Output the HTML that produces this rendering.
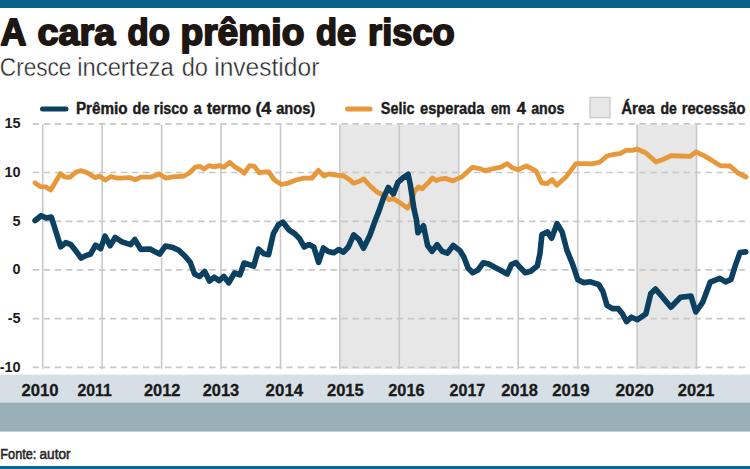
<!DOCTYPE html>
<html><head><meta charset="utf-8"><title>A cara do prêmio de risco</title>
<style>
html,body{margin:0;padding:0;background:#fff;}
body{width:750px;height:469px;overflow:hidden;}
svg{display:block;font-family:"Liberation Sans", sans-serif;}
</style></head><body>
<svg width="750" height="469" viewBox="0 0 750 469">
<rect x="0" y="0" width="750" height="469" fill="#ffffff"/>
<rect x="0" y="0" width="750" height="8" fill="#0a628b"/>
<text x="0.50" y="44.80" font-size="36.2" font-weight="bold" fill="#1e1612" stroke="#1e1612" stroke-width="1.8" stroke-linejoin="round" textLength="25.89" lengthAdjust="spacingAndGlyphs">A</text>
<text x="37.58" y="44.80" font-size="36.2" font-weight="bold" fill="#1e1612" stroke="#1e1612" stroke-width="1.8" stroke-linejoin="round" textLength="77.74" lengthAdjust="spacingAndGlyphs">cara</text>
<text x="127.51" y="44.80" font-size="36.2" font-weight="bold" fill="#1e1612" stroke="#1e1612" stroke-width="1.8" stroke-linejoin="round" textLength="42.36" lengthAdjust="spacingAndGlyphs">do</text>
<text x="180.48" y="44.80" font-size="36.2" font-weight="bold" fill="#1e1612" stroke="#1e1612" stroke-width="1.8" stroke-linejoin="round" textLength="123.88" lengthAdjust="spacingAndGlyphs">prêmio</text>
<text x="316.02" y="44.80" font-size="36.2" font-weight="bold" fill="#1e1612" stroke="#1e1612" stroke-width="1.8" stroke-linejoin="round" textLength="40.18" lengthAdjust="spacingAndGlyphs">de</text>
<text x="368.04" y="44.80" font-size="36.2" font-weight="bold" fill="#1e1612" stroke="#1e1612" stroke-width="1.8" stroke-linejoin="round" textLength="86.73" lengthAdjust="spacingAndGlyphs">risco</text>
<text x="-0.13" y="76.20" font-size="26" fill="#262626" stroke="#ffffff" stroke-width="0.4" textLength="71.49" lengthAdjust="spacingAndGlyphs">Cresce</text>
<text x="77.25" y="76.20" font-size="26" fill="#262626" stroke="#ffffff" stroke-width="0.4" textLength="96.49" lengthAdjust="spacingAndGlyphs">incerteza</text>
<text x="181.76" y="76.20" font-size="26" fill="#262626" stroke="#ffffff" stroke-width="0.4" textLength="26.24" lengthAdjust="spacingAndGlyphs">do</text>
<text x="214.20" y="76.20" font-size="26" fill="#262626" stroke="#ffffff" stroke-width="0.4" textLength="105.16" lengthAdjust="spacingAndGlyphs">investidor</text>
<line x1="42.5" y1="109" x2="66" y2="109" stroke="#0c4060" stroke-width="5" stroke-linecap="round"/>
<text x="75.91" y="113.90" font-size="16" font-weight="bold" fill="#1c1c1c" stroke="#1c1c1c" stroke-width="0.4" textLength="51.73" lengthAdjust="spacingAndGlyphs">Prêmio</text>
<text x="132.52" y="113.90" font-size="16" font-weight="bold" fill="#1c1c1c" stroke="#1c1c1c" stroke-width="0.4" textLength="16.95" lengthAdjust="spacingAndGlyphs">de</text>
<text x="153.87" y="113.90" font-size="16" font-weight="bold" fill="#1c1c1c" stroke="#1c1c1c" stroke-width="0.4" textLength="34.03" lengthAdjust="spacingAndGlyphs">risco</text>
<text x="193.43" y="113.90" font-size="16" font-weight="bold" fill="#1c1c1c" stroke="#1c1c1c" stroke-width="0.4" textLength="8.24" lengthAdjust="spacingAndGlyphs">a</text>
<text x="206.64" y="113.90" font-size="16" font-weight="bold" fill="#1c1c1c" stroke="#1c1c1c" stroke-width="0.4" textLength="44.49" lengthAdjust="spacingAndGlyphs">termo</text>
<text x="255.40" y="113.90" font-size="16" font-weight="bold" fill="#1c1c1c" stroke="#1c1c1c" stroke-width="0.4" textLength="15.89" lengthAdjust="spacingAndGlyphs">(4</text>
<text x="276.13" y="113.90" font-size="16" font-weight="bold" fill="#1c1c1c" stroke="#1c1c1c" stroke-width="0.4" textLength="39.06" lengthAdjust="spacingAndGlyphs">anos)</text>
<line x1="347.5" y1="109" x2="370" y2="109" stroke="#e6983a" stroke-width="5" stroke-linecap="round"/>
<text x="380.84" y="113.90" font-size="16" font-weight="bold" fill="#1c1c1c" stroke="#1c1c1c" stroke-width="0.4" textLength="33.62" lengthAdjust="spacingAndGlyphs">Selic</text>
<text x="419.99" y="113.90" font-size="16" font-weight="bold" fill="#1c1c1c" stroke="#1c1c1c" stroke-width="0.4" textLength="64.39" lengthAdjust="spacingAndGlyphs">esperada</text>
<text x="491.03" y="113.90" font-size="16" font-weight="bold" fill="#1c1c1c" stroke="#1c1c1c" stroke-width="0.4" textLength="19.59" lengthAdjust="spacingAndGlyphs">em</text>
<text x="516.65" y="113.90" font-size="16" font-weight="bold" fill="#1c1c1c" stroke="#1c1c1c" stroke-width="0.4" textLength="9.17" lengthAdjust="spacingAndGlyphs">4</text>
<text x="531.15" y="113.90" font-size="16" font-weight="bold" fill="#1c1c1c" stroke="#1c1c1c" stroke-width="0.4" textLength="33.14" lengthAdjust="spacingAndGlyphs">anos</text>
<rect x="590" y="97.4" width="20" height="20.2" fill="#e7e7e7" stroke="#cdcdcd" stroke-width="1.4"/>
<text x="621.22" y="113.90" font-size="16" font-weight="bold" fill="#1c1c1c" stroke="#1c1c1c" stroke-width="0.4" textLength="33.41" lengthAdjust="spacingAndGlyphs">Área</text>
<text x="660.54" y="113.90" font-size="16" font-weight="bold" fill="#1c1c1c" stroke="#1c1c1c" stroke-width="0.4" textLength="16.41" lengthAdjust="spacingAndGlyphs">de</text>
<text x="681.75" y="113.90" font-size="16" font-weight="bold" fill="#1c1c1c" stroke="#1c1c1c" stroke-width="0.4" textLength="63.60" lengthAdjust="spacingAndGlyphs">recessão</text>
<rect x="339.9" y="124.6" width="118.9" height="244.2" fill="#e7e7e7"/>
<rect x="637.1" y="124.6" width="59.4" height="244.2" fill="#e7e7e7"/>
<line x1="42.7" y1="124.6" x2="42.7" y2="368.9" stroke="#c9c9c9" stroke-width="1.6"/>
<line x1="102.1" y1="124.6" x2="102.1" y2="368.9" stroke="#c9c9c9" stroke-width="1.6"/>
<line x1="161.6" y1="124.6" x2="161.6" y2="368.9" stroke="#c9c9c9" stroke-width="1.6"/>
<line x1="221.0" y1="124.6" x2="221.0" y2="368.9" stroke="#c9c9c9" stroke-width="1.6"/>
<line x1="280.5" y1="124.6" x2="280.5" y2="368.9" stroke="#c9c9c9" stroke-width="1.6"/>
<line x1="339.9" y1="124.6" x2="339.9" y2="368.9" stroke="#c9c9c9" stroke-width="1.6"/>
<line x1="399.3" y1="124.6" x2="399.3" y2="368.9" stroke="#c9c9c9" stroke-width="1.6"/>
<line x1="458.8" y1="124.6" x2="458.8" y2="368.9" stroke="#c9c9c9" stroke-width="1.6"/>
<line x1="518.2" y1="124.6" x2="518.2" y2="368.9" stroke="#c9c9c9" stroke-width="1.6"/>
<line x1="577.7" y1="124.6" x2="577.7" y2="368.9" stroke="#c9c9c9" stroke-width="1.6"/>
<line x1="637.1" y1="124.6" x2="637.1" y2="368.9" stroke="#c9c9c9" stroke-width="1.6"/>
<line x1="696.5" y1="124.6" x2="696.5" y2="368.9" stroke="#c9c9c9" stroke-width="1.6"/>
<line x1="32.7" y1="123.8" x2="745.2" y2="123.8" stroke="#c8c8c8" stroke-width="1.7" stroke-dasharray="6.4 4.63"/>
<text x="20.6" y="128.4" font-size="14.5" font-weight="bold" fill="#1c1c1c" text-anchor="end">15</text>
<line x1="32.7" y1="172.5" x2="745.2" y2="172.5" stroke="#c8c8c8" stroke-width="1.7" stroke-dasharray="6.4 4.63"/>
<text x="20.6" y="177.1" font-size="14.5" font-weight="bold" fill="#1c1c1c" text-anchor="end">10</text>
<line x1="32.7" y1="221.3" x2="745.2" y2="221.3" stroke="#c8c8c8" stroke-width="1.7" stroke-dasharray="6.4 4.63"/>
<text x="20.6" y="225.9" font-size="14.5" font-weight="bold" fill="#1c1c1c" text-anchor="end">5</text>
<line x1="32.7" y1="269.8" x2="745.2" y2="269.8" stroke="#c8c8c8" stroke-width="1.7" stroke-dasharray="6.4 4.63"/>
<text x="20.6" y="274.4" font-size="14.5" font-weight="bold" fill="#1c1c1c" text-anchor="end">0</text>
<line x1="32.7" y1="318.6" x2="745.2" y2="318.6" stroke="#c8c8c8" stroke-width="1.7" stroke-dasharray="6.4 4.63"/>
<text x="20.6" y="323.2" font-size="14.5" font-weight="bold" fill="#1c1c1c" text-anchor="end">-5</text>
<line x1="32.7" y1="367.4" x2="745.2" y2="367.4" stroke="#c8c8c8" stroke-width="1.7" stroke-dasharray="6.4 4.63"/>
<text x="20.6" y="372.0" font-size="14.5" font-weight="bold" fill="#1c1c1c" text-anchor="end">-10</text>
<polyline points="35.1,182.9 40.7,186.7 45.7,186.9 50.7,190.0 60.4,173.7 64.7,177.0 70.0,177.3 76.0,172.0 81.3,170.7 87.3,172.7 95.3,177.7 99.3,176.0 105.3,180.0 110.7,176.7 116.7,178.0 120.0,178.1 129.6,177.6 135.2,179.7 140.8,177.1 152.0,176.8 159.2,173.9 165.6,178.1 172.8,176.8 184.0,176.0 189.6,172.8 195.2,167.2 200.0,166.4 204.0,169.1 208.8,165.6 214.4,166.9 219.2,165.6 224.0,167.2 229.6,162.4 235.2,167.2 240.0,169.8 244.0,173.3 249.6,165.6 254.4,166.4 259.2,172.8 264.0,172.0 268.8,172.0 274.4,180.0 281.6,184.5 288.0,183.2 296.0,180.0 304.0,178.1 312.0,178.1 318.4,170.4 324.0,176.0 328.8,173.9 336.0,175.2 344.0,176.0 348.8,179.2 353.6,183.2 360.0,180.9 363.7,178.9 370.2,186.0 377.0,192.0 383.9,195.2 389.0,199.7 392.8,198.4 399.2,202.2 407.6,208.1 410.7,203.5 414.5,191.3 418.4,186.9 422.2,188.8 428.6,182.4 432.4,177.9 436.3,180.5 440.0,179.2 445.2,178.4 452.9,180.9 462.3,176.6 472.5,167.3 480.0,168.6 484.8,170.8 491.2,169.2 500.8,167.1 507.2,163.6 512.0,167.6 517.6,169.7 526.4,166.0 536.0,170.8 541.6,182.8 547.2,183.6 552.0,179.6 556.8,185.2 566.4,176.4 576.0,163.6 584.0,163.6 592.0,163.9 600.0,162.0 607.0,156.0 614.0,154.4 620.0,153.6 626.0,150.4 632.0,150.4 637.0,149.0 646.0,153.0 656.0,162.0 664.0,159.0 671.0,155.6 680.0,156.0 690.0,156.4 696.0,152.0 704.0,155.6 712.0,160.4 720.0,165.6 730.0,166.0 738.0,173.0 746.0,177.0" fill="none" stroke="#e6983a" stroke-width="4.8" stroke-linejoin="round" stroke-linecap="round"/>
<polyline points="35.1,220.5 41.1,215.7 46.2,217.9 51.3,217.0 55.6,230.7 60.7,246.9 65.8,242.6 70.9,244.7 76.0,251.1 81.1,258.0 86.2,255.4 90.5,254.2 95.6,245.2 100.7,248.6 105.0,236.1 110.1,245.7 115.2,237.5 122.0,241.8 130.6,244.7 134.8,239.5 140.8,249.4 150.0,249.0 159.6,254.1 165.4,246.1 173.0,247.6 178.8,250.3 184.6,255.7 190.3,262.4 194.5,273.9 199.5,276.4 204.7,271.4 209.5,281.0 214.3,277.2 219.1,280.6 223.9,276.4 228.7,282.9 234.5,273.0 239.9,274.9 244.1,263.0 253.7,266.2 258.5,249.0 264.0,253.8 268.6,254.7 273.4,233.6 278.2,225.0 283.0,222.1 288.8,229.8 294.6,233.6 299.4,238.4 304.2,247.0 309.0,244.5 313.8,247.0 318.6,262.4 323.4,248.0 328.2,251.5 333.9,252.8 338.7,249.5 343.5,252.2 348.3,247.0 353.7,234.9 358.9,239.4 363.5,248.3 369.8,235.5 375.0,221.0 378.7,211.6 383.8,197.1 388.3,187.5 393.4,193.9 397.9,182.4 403.0,177.9 408.1,174.3 410.0,183.0 412.0,195.8 413.9,208.6 416.5,220.0 417.9,232.7 423.5,225.8 427.6,245.5 432.0,251.4 437.1,244.7 442.2,251.4 447.3,253.2 453.2,245.5 460.0,250.7 464.0,257.3 468.0,268.0 472.7,272.7 478.0,270.0 483.3,262.7 488.7,264.0 494.7,267.3 500.0,270.0 507.3,274.0 511.3,264.7 516.0,262.7 520.0,267.3 525.3,272.7 530.7,271.3 537.3,266.0 540.0,253.3 541.9,234.6 547.4,231.9 551.6,238.2 557.1,223.6 562.1,231.9 566.8,249.9 572.4,263.7 577.9,279.8 583.4,282.6 590.4,281.8 598.7,284.5 602.9,291.5 607.0,305.3 612.5,308.6 618.1,308.6 622.3,313.6 626.6,321.6 631.5,317.2 637.3,319.7 645.9,313.9 650.7,293.8 655.5,289.0 661.3,295.7 670.9,307.2 680.5,297.2 691.0,296.1 695.8,312.0 702.6,302.4 710.2,282.2 719.8,278.4 725.6,281.9 731.0,279.4 735.2,265.9 740.0,252.5 745.8,251.9" fill="none" stroke="#0c4060" stroke-width="5.6" stroke-linejoin="round" stroke-linecap="round"/>
<rect x="0" y="374.6" width="750" height="27.4" fill="#d6dfe6"/>
<rect x="0" y="402.4" width="750" height="29.2" fill="#9ab0b8"/>
<text x="21.6" y="395.6" font-size="16.5" font-weight="bold" fill="#1a1a1a" stroke="#1a1a1a" stroke-width="0.3" textLength="37.0" lengthAdjust="spacingAndGlyphs">2010</text>
<text x="77.4" y="395.6" font-size="16.5" font-weight="bold" fill="#1a1a1a" stroke="#1a1a1a" stroke-width="0.3" textLength="34.3" lengthAdjust="spacingAndGlyphs">2011</text>
<text x="144.0" y="395.6" font-size="16.5" font-weight="bold" fill="#1a1a1a" stroke="#1a1a1a" stroke-width="0.3" textLength="36.5" lengthAdjust="spacingAndGlyphs">2012</text>
<text x="202.7" y="395.6" font-size="16.5" font-weight="bold" fill="#1a1a1a" stroke="#1a1a1a" stroke-width="0.3" textLength="36.5" lengthAdjust="spacingAndGlyphs">2013</text>
<text x="265.6" y="395.6" font-size="16.5" font-weight="bold" fill="#1a1a1a" stroke="#1a1a1a" stroke-width="0.3" textLength="37.6" lengthAdjust="spacingAndGlyphs">2014</text>
<text x="327.0" y="395.6" font-size="16.5" font-weight="bold" fill="#1a1a1a" stroke="#1a1a1a" stroke-width="0.3" textLength="36.7" lengthAdjust="spacingAndGlyphs">2015</text>
<text x="388.3" y="395.6" font-size="16.5" font-weight="bold" fill="#1a1a1a" stroke="#1a1a1a" stroke-width="0.3" textLength="36.2" lengthAdjust="spacingAndGlyphs">2016</text>
<text x="449.6" y="395.6" font-size="16.5" font-weight="bold" fill="#1a1a1a" stroke="#1a1a1a" stroke-width="0.3" textLength="35.7" lengthAdjust="spacingAndGlyphs">2017</text>
<text x="501.2" y="395.6" font-size="16.5" font-weight="bold" fill="#1a1a1a" stroke="#1a1a1a" stroke-width="0.3" textLength="36.6" lengthAdjust="spacingAndGlyphs">2018</text>
<text x="552.2" y="395.6" font-size="16.5" font-weight="bold" fill="#1a1a1a" stroke="#1a1a1a" stroke-width="0.3" textLength="37.3" lengthAdjust="spacingAndGlyphs">2019</text>
<text x="615.5" y="395.6" font-size="16.5" font-weight="bold" fill="#1a1a1a" stroke="#1a1a1a" stroke-width="0.3" textLength="38.3" lengthAdjust="spacingAndGlyphs">2020</text>
<text x="677.8" y="395.6" font-size="16.5" font-weight="bold" fill="#1a1a1a" stroke="#1a1a1a" stroke-width="0.3" textLength="36.7" lengthAdjust="spacingAndGlyphs">2021</text>
<text x="0.36" y="458.60" font-size="14" fill="#262626" stroke="#262626" stroke-width="0.55" textLength="36.01" lengthAdjust="spacingAndGlyphs">Fonte:</text>
<text x="39.53" y="458.60" font-size="14" fill="#262626" stroke="#262626" stroke-width="0.55" textLength="31.09" lengthAdjust="spacingAndGlyphs">autor</text>
<rect x="0" y="466" width="750" height="3" fill="#0b6689"/>
</svg>
</body></html>
